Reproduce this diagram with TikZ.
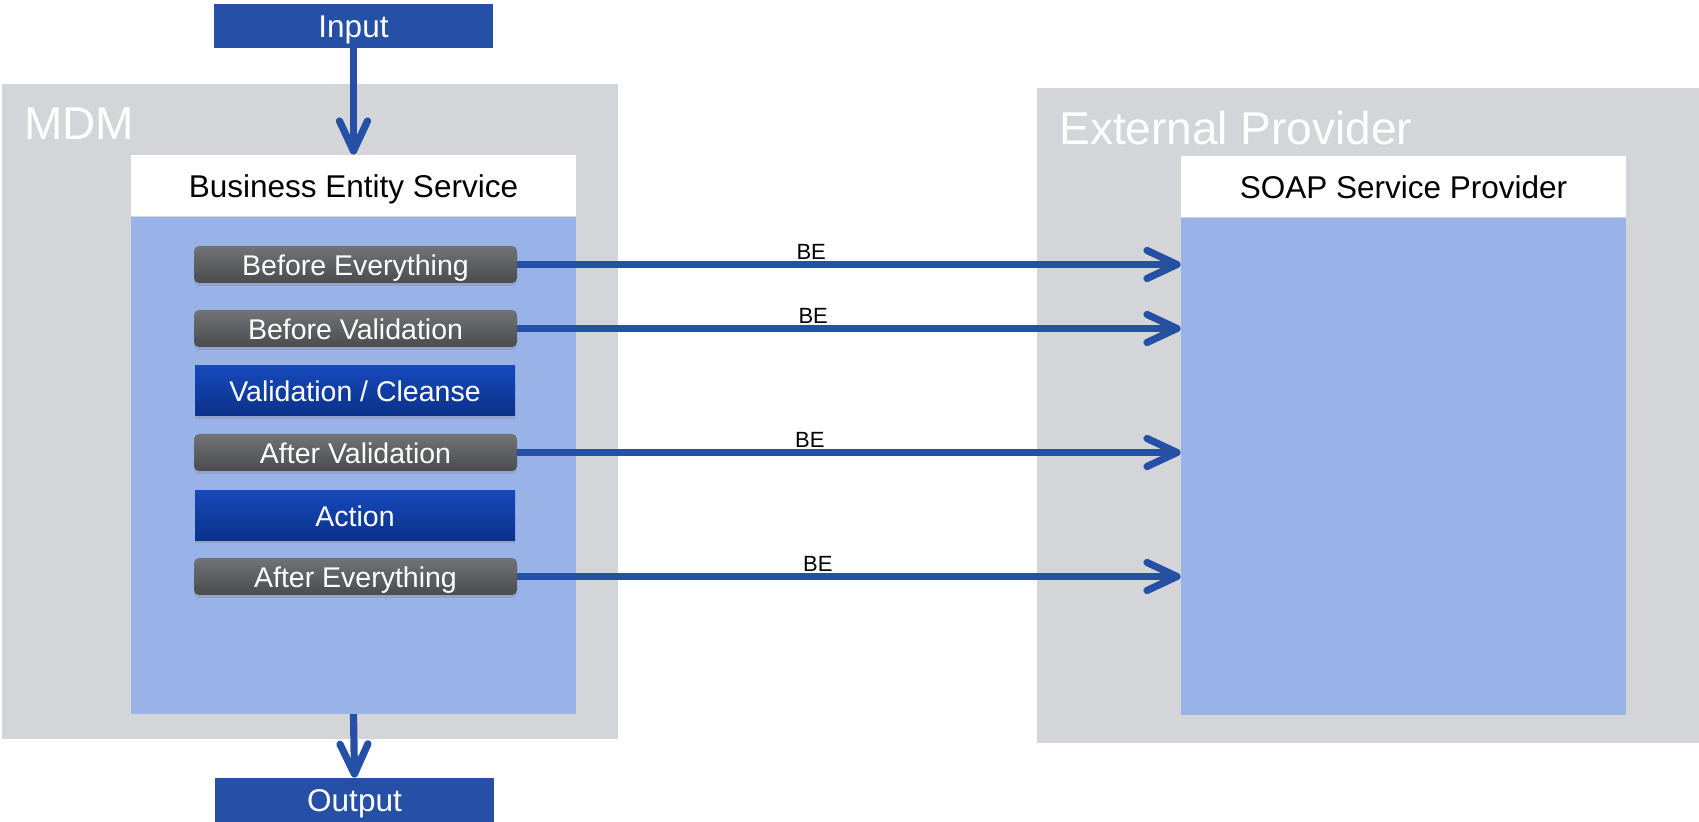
\documentclass[tikz,border=0pt]{standalone}
\usepackage{fontspec}
\setmainfont{Liberation Sans}
\usetikzlibrary{arrows.meta,shadows,positioning}
\definecolor{boxgray}{HTML}{D4D5D8}
\definecolor{paleblue}{HTML}{99B3E9}
\definecolor{darkblue}{HTML}{2550A5}
\definecolor{hooktop}{HTML}{727377}
\definecolor{hookbot}{HTML}{4B4C50}
\definecolor{stagetop}{HTML}{1649BC}
\definecolor{stagebot}{HTML}{0B3289}

\begin{document}
\begin{tikzpicture}[x=0.5pt,y=-0.5pt,
    frame/.style={fill=boxgray,inner sep=0pt,anchor=north west,minimum height=327.5pt},
    title/.style={text=white,inner sep=0pt,anchor=base west,font=\fontsize{23}{26}\selectfont},
    header/.style={fill=white,inner sep=0pt,text height=11.6pt,text depth=0pt,
        minimum width=222.5pt,minimum height=30.5pt,font=\fontsize{15.75}{18}\selectfont},
    body/.style={fill=paleblue,inner sep=0pt,minimum width=222.5pt,minimum height=248.5pt},
    io/.style={fill=darkblue,text=white,inner sep=0pt,text height=11.6pt,text depth=0pt,
        minimum width=139.5pt,minimum height=22pt,font=\fontsize{15.75}{18}\selectfont},
    hook/.style={rounded corners=2.5pt,top color=hooktop,bottom color=hookbot,text=white,
        inner sep=0pt,text height=11.3pt,text depth=0pt,
        minimum width=161.5pt,minimum height=18.5pt,font=\fontsize{14.25}{16}\selectfont,
        drop shadow={shadow xshift=0pt,shadow yshift=-1.5pt,opacity=0.3}},
    stage/.style={top color=stagetop,bottom color=stagebot,text=white,
        inner sep=0pt,text height=10.8pt,text depth=0pt,
        minimum width=160pt,minimum height=25pt,font=\fontsize{14.25}{16}\selectfont,
        drop shadow={shadow xshift=0pt,shadow yshift=-1.5pt,opacity=0.3}},
    flow/.style={draw=darkblue,line width=3.6pt,-{Straight Barb[length=15pt,width=14pt,round]}},
    tag/.style={inner sep=0pt,anchor=south,yshift=0.6pt,font=\fontsize{11}{13}\selectfont}]
    \useasboundingbox (0,0) rectangle (1699,822);
    %containers
    \node[frame,minimum width=308pt] (mdm) at (2,84) {};
    \node[title] (mdmtitle) at (24,140) {MDM};
    \node[frame,minimum width=331pt] (ext) at (1037,88) {};
    \node[title] (exttitle) at (1059,145) {External Provider};
    %services
    \node[header] (bes) at (353.5,185.5) {Business Entity Service};
    \node[body,below=0pt of bes] (besbody) {};
    \node[header] (soap) at (1403.5,187) {SOAP Service Provider};
    \node[body,below=0pt of soap] (soapbody) {};
    %input, output
    \node[io] (input) at (353.5,26) {Input};
    \node[io] (output) at (354.5,800) {Output};
    \draw[flow] (input.south) -- (bes.north);
    \draw[flow] (besbody.south) -- (output.north);
    %steps
    \node[hook] (beforeall) at (355.5,264.5) {Before Everything};
    \node[hook] (beforeval) at (355.5,328.5) {Before Validation};
    \node[stage] (cleanse) at (355,391) {Validation / Cleanse};
    \node[hook] (afterval) at (355.5,452.5) {After Validation};
    \node[stage] (action) at (355,515.5) {Action};
    \node[hook] (afterall) at (355.5,576.5) {After Everything};
    %calls
    \draw[flow] (beforeall.east) -- (beforeall.east -| soapbody.west) node[tag,pos=0.443] {BE};
    \draw[flow] (beforeval.east) -- (beforeval.east -| soapbody.west) node[tag,pos=0.446] {BE};
    \draw[flow] (afterval.east) -- (afterval.east -| soapbody.west) node[tag,pos=0.441] {BE};
    \draw[flow] (afterall.east) -- (afterall.east -| soapbody.west) node[tag,pos=0.453] {BE};
\end{tikzpicture}
\end{document}
